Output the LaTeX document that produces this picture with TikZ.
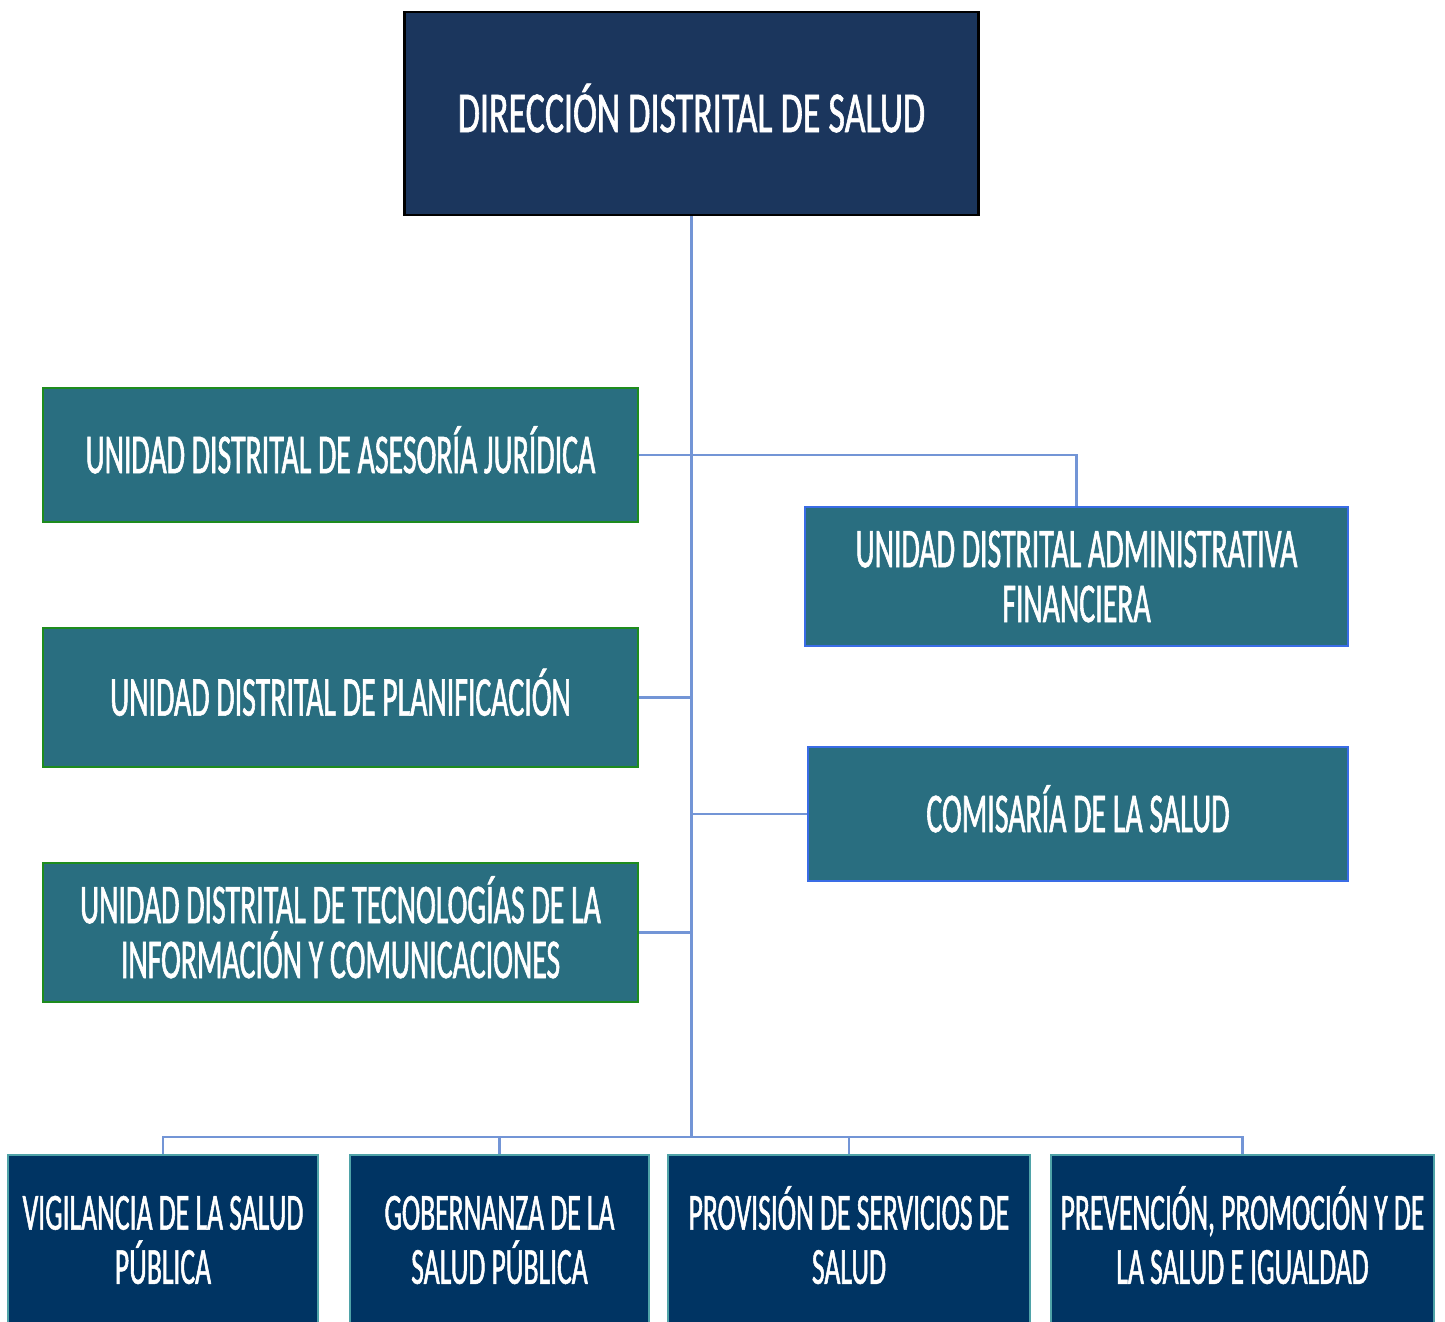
\documentclass[tikz,border=0pt]{standalone}
\usepackage{fontspec}
\setmainfont{Carlito}[FakeStretch=0.53, FakeBold=1]
\newfontfamily\topfont{Carlito}[FakeStretch=0.62, FakeBold=1]
\definecolor{navytop}{HTML}{1B365D}
\definecolor{tealbox}{HTML}{296E80}
\definecolor{navybot}{HTML}{003463}
\definecolor{linkblue}{HTML}{7395D6}
\definecolor{greenedge}{HTML}{1E8C1E}
\definecolor{blueedge}{HTML}{3A6CE6}
\definecolor{cyanedge}{HTML}{4FA3A8}
\begin{document}
\begin{tikzpicture}[x=0.01cm, y=-0.01cm,
	box/.style={inner sep=0pt, align=center, text=white, text depth=0pt, font=\fontsize{16}{15.6}\selectfont},
	oneline/.style={text height=10.3pt},
	twoline/.style={text height=25.9pt},
	topbox/.style={box, fill=navytop, draw=black, line width=0.8pt, text height=10.6pt, font=\topfont\fontsize{16.5}{16}\selectfont},
	leftbox/.style={box, fill=tealbox, draw=greenedge, line width=0.6pt, minimum width=5.95cm},
	rightbox/.style={box, fill=tealbox, draw=blueedge, line width=0.7pt},
	botbox/.style={box, fill=navybot, draw=cyanedge, line width=0.4pt, minimum height=1.7cm, text height=24.9pt, font=\fontsize{14.8}{15.4}\selectfont},
	link/.style={draw=linkblue, line width=0.65pt}]
	\clip (0,0) rectangle (1445,1322);

	\node[topbox, minimum width=5.73cm, minimum height=2.03cm] (dir) at (691.5,113.5) {DIRECCIÓN DISTRITAL DE SALUD};

	\node[leftbox, oneline, minimum height=1.34cm] (asesoria) at (340.5,455) {UNIDAD DISTRITAL DE ASESORÍA JURÍDICA};
	\node[leftbox, oneline, minimum height=1.39cm] (planif) at (340.5,697.5) {UNIDAD DISTRITAL DE PLANIFICACIÓN};
	\node[leftbox, twoline, minimum height=1.39cm] (tecno) at (340.5,932.5) {UNIDAD DISTRITAL DE TECNOLOGÍAS DE LA\\INFORMACIÓN Y COMUNICACIONES};

	\node[rightbox, twoline, minimum width=5.43cm, minimum height=1.39cm] (admin) at (1076.5,576.5) {UNIDAD DISTRITAL ADMINISTRATIVA\\FINANCIERA};
	\node[rightbox, oneline, minimum width=5.40cm, minimum height=1.34cm] (comisaria) at (1078,814) {COMISARÍA DE LA SALUD};

	\node[botbox, minimum width=3.10cm] (vig) at (163,1240) {VIGILANCIA DE LA SALUD\\PÚBLICA};
	\node[botbox, minimum width=2.99cm] (gob) at (499.5,1240) {GOBERNANZA DE LA\\SALUD PÚBLICA};
	\node[botbox, minimum width=3.62cm] (prov) at (849,1240) {PROVISIÓN DE SERVICIOS DE\\SALUD};
	\node[botbox, minimum width=3.83cm] (prev) at (1242.5,1240) {PREVENCIÓN, PROMOCIÓN Y DE\\LA SALUD E IGUALDAD};

	\coordinate (bus) at (691.5,1137);

	\draw[link] (dir.south) -- (bus);
	\draw[link] (asesoria.east) -| (admin.north);
	\draw[link] (planif.east) -- (planif.east -| dir.south);
	\draw[link] (tecno.east) -- (tecno.east -| dir.south);
	\draw[link] (comisaria.west) -- (comisaria.west -| dir.south);
	\draw[link] (vig.north) |- (prev.north |- bus) -- (prev.north);
	\draw[link] (gob.north) -- (gob.north |- bus);
	\draw[link] (prov.north) -- (prov.north |- bus);
\end{tikzpicture}
\end{document}
